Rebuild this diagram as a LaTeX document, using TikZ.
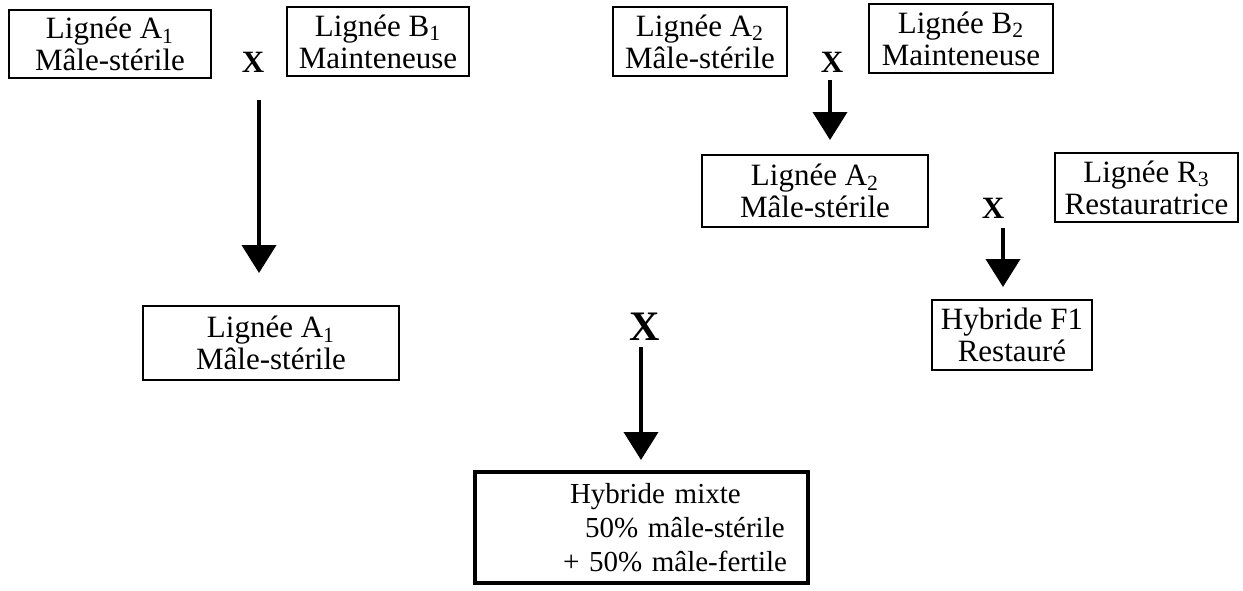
\documentclass[tikz,border=0pt]{standalone}
\usepackage{fontspec}
\setmainfont{Liberation Serif}
\usetikzlibrary{arrows.meta}
\begin{document}
\begin{tikzpicture}[x=0.5pt,y=-0.5pt,
  box/.style={draw, line width=0.7pt, inner sep=0pt, align=center,
    font=\fontsize{15.5}{16}\selectfont},
  bigbox/.style={draw, line width=2pt, inner sep=0pt, align=left,
    font=\fontsize{14.5}{17}\selectfont},
  cross/.style={inner sep=0pt, font=\fontsize{15.5}{16}\selectfont\bfseries},
  bigcross/.style={inner sep=0pt, font=\fontsize{21}{22}\selectfont\bfseries},
  arr/.style={line width=2pt, -{Triangle[width=17pt,length=14pt]}}]
\useasboundingbox (0,0) rectangle (1243,590);

% left group
\node[box, minimum width=101pt, minimum height=34pt] (A1) at (110,44)
  {Lignée A\textsubscript{1}\\Mâle-stérile};
\node[cross] (X1) at (253,62) {X};
\node[box, minimum width=91pt, minimum height=34.5pt] (B1) at (378,41.5)
  {Lignée B\textsubscript{1}\\Mainteneuse};
\node[box, minimum width=128pt, minimum height=37pt] (A1b) at (271,343)
  {Lignée A\textsubscript{1}\\Mâle-stérile};

% right group
\node[box, minimum width=87pt, minimum height=34.5pt] (A2) at (700,41.5)
  {Lignée A\textsubscript{2}\\Mâle-stérile};
\node[cross] (X3) at (832,62) {X};
\node[box, minimum width=92pt, minimum height=34.5pt] (B2) at (961,38.5)
  {Lignée B\textsubscript{2}\\Mainteneuse};
\node[box, minimum width=113pt, minimum height=36pt] (A2b) at (815,191)
  {Lignée A\textsubscript{2}\\Mâle-stérile};
\node[cross] (X4) at (993,208) {X};
\node[box, minimum width=91.5pt, minimum height=34.5pt] (R3) at (1146.5,187.5)
  {Lignée R\textsubscript{3}\\Restauratrice};
\node[box, minimum width=80pt, minimum height=35pt] (F1) at (1012,335)
  {Hybride F1\\Restauré};

% centre
\node[bigcross] (X2) at (645,327) {X};
\node[bigbox, minimum width=166.5pt, minimum height=55.5pt, text width=166.5pt] (HM) at (641.5,527.5)
  {\hspace*{47.5pt}Hybride mixte\\\hspace*{55pt}50\% mâle-stérile\\\hspace*{44pt}+ 50\% mâle-fertile};

% connectors
\coordinate (a1s) at (259,100);
\coordinate (a1e) at (259,273);
\coordinate (a2s) at (641,347);
\coordinate (a2e) at (641,460);
\coordinate (a3s) at (830,80);
\coordinate (a3e) at (830,140);
\coordinate (a4s) at (1003,228);
\coordinate (a4e) at (1003,287);
\draw[arr] (a1s) -- (a1e);
\draw[arr] (a2s) -- (a2e);
\draw[arr] (a3s) -- (a3e);
\draw[arr] (a4s) -- (a4e);
\end{tikzpicture}
\end{document}
